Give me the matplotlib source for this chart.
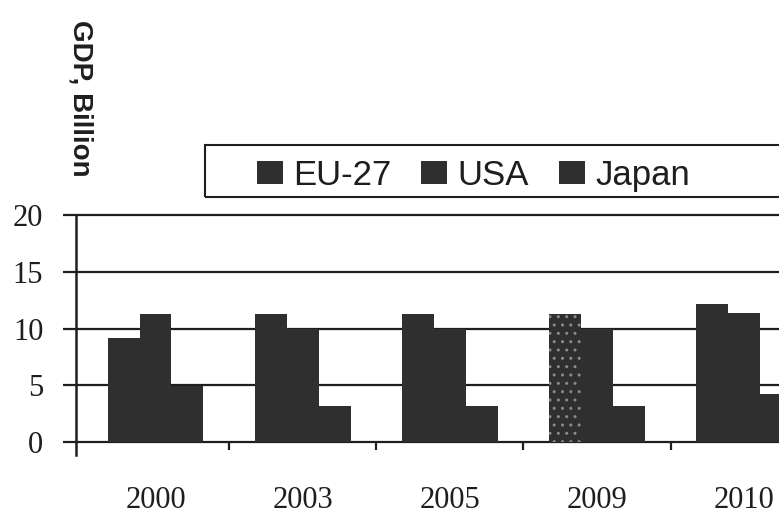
import numpy as np
import matplotlib
matplotlib.use('Agg')
import matplotlib.pyplot as plt
from matplotlib.patches import Rectangle

years = ['2000', '2003', '2005', '2009', '2010']
eu27 = [9.2, 11.3, 11.3, 11.3, 12.2]
usa = [11.3, 10.0, 10.0, 10.0, 11.4]
japan = [4.9, 3.2, 3.2, 3.2, 4.2]
series_names = ['EU-27', 'USA', 'Japan']
dotted_year = '2009'

BAR_COLOR = '#2f2f2f'
INK = '#1e1e1e'


def main():
    fig = plt.figure(figsize=(7.79, 5.15), dpi=100)
    W, H = 779, 515
    ax = fig.add_axes([76 / W, 1 - 454.5 / H, 756.6 / W, (454.5 - 213.3) / H])

    x = np.arange(len(years))
    w = 0.217
    containers = []
    for k, vals in enumerate([eu27, usa, japan]):
        c = ax.bar(x + (k - 1) * w, vals, width=w, color=BAR_COLOR,
                   linewidth=0, label=series_names[k], zorder=3)
        containers.append(c)

    # speckled EU-27 bar
    b = containers[0][years.index(dotted_year)]
    b.set_hatch('..')
    b.set_edgecolor('#8a8a8a')
    b.set_linewidth(0)

    ax.set_xlim(-0.54, 4.6)
    ax.set_ylim(-1.1, 20.15)

    # horizontal rules incl. the zero line
    for v in [0, 5, 10, 15, 20]:
        ax.axhline(v, color=INK, linewidth=1.6, zorder=2)

    for s in ['top', 'right']:
        ax.spines[s].set_visible(False)
    ax.spines['bottom'].set_position(('data', 0))
    ax.spines['bottom'].set_visible(False)
    ax.spines['left'].set_bounds(-1.1, 20)
    ax.spines['left'].set_linewidth(1.8)
    ax.spines['left'].set_color(INK)

    ax.set_yticks([0, 5, 10, 15, 20])
    ax.tick_params(axis='y', direction='out', length=9.5, width=1.6, color=INK,
                   pad=14, labelsize=22, labelcolor=INK)
    ax.set_xticks(x)
    ax.set_xticklabels(years)
    ax.set_xticks(x[:-1] + 0.5, minor=True)
    ax.tick_params(axis='x', which='major', length=0, pad=32, labelsize=22,
                   labelcolor=INK)
    ax.tick_params(axis='x', which='minor', direction='out', length=6,
                   width=1.6, color=INK)
    for lbl in ax.get_xticklabels() + ax.get_yticklabels():
        lbl.set_fontfamily('Liberation Serif')

    fig.text(80 / W, 1 - 98 / H, 'GDP, Billion', rotation=270,
             ha='center', va='center', fontsize=20, fontweight='bold',
             color=INK, family='Liberation Sans')

    ax.legend(handles=containers, loc='center left',
              bbox_to_anchor=(257 / W, 1 - 175 / H), bbox_transform=fig.transFigure,
              frameon=False, ncol=3, prop={'family': 'Liberation Sans', 'size': 25},
              handlelength=0.75, handleheight=0.65, handletextpad=0.3,
              columnspacing=0.85, borderpad=0, borderaxespad=0,
              labelcolor=INK)
    fig.add_artist(Rectangle((205 / W, 1 - 197 / H), 620 / W, 52 / H,
                             transform=fig.transFigure, fill=False,
                             edgecolor=INK, linewidth=1.5, clip_on=False))

    fig.savefig('out.png', dpi=100)


if __name__ == '__main__':
    main()
